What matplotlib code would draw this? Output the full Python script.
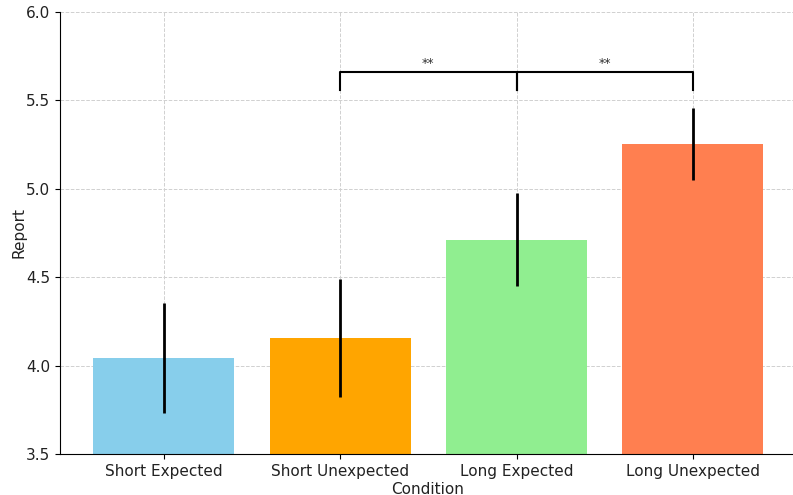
import numpy as np
import matplotlib
matplotlib.use("Agg")
import matplotlib.pyplot as plt

# --------------------------------------------------
# Data
# --------------------------------------------------
conditions = ["Short Expected", "Short Unexpected", "Long Expected", "Long Unexpected"]
means = [4.043, 4.156, 4.713, 5.254]
errors = [0.31, 0.335, 0.262, 0.205]
colors = ["skyblue", "orange", "lightgreen", "coral"]

# significance comparisons: (left bar, right bar, label)
pairs = [(1, 2, "**"), (2, 3, "**")]
bracket_y = 5.66
bracket_drop = 0.10

# --------------------------------------------------
# Plot
# --------------------------------------------------
fig = plt.figure(figsize=(7.93, 4.95), dpi=100)
ax = fig.add_axes([60 / 793, 41 / 495, 735 / 793, 442 / 495])

x = np.arange(len(conditions))
ax.bar(x, means, width=0.8, color=colors, zorder=2)
ax.errorbar(x, means, yerr=errors, fmt="none", ecolor="black",
            elinewidth=2, capsize=0, zorder=3)

for a, b, label in pairs:
    ax.plot([a, a, b, b],
            [bracket_y - bracket_drop, bracket_y, bracket_y, bracket_y - bracket_drop],
            color="black", lw=1.5, zorder=4)
    ax.text((a + b) / 2, bracket_y + 0.01, label, ha="center", va="bottom",
            fontsize=9, color="#333333")

ax.set_ylim(3.5, 6.0)
ax.set_xlim(-0.59, 3.58)
ax.set_xticks(x)
ax.set_xticklabels(conditions, fontsize=11, color="#222222")
ax.tick_params(axis="y", labelsize=11, labelcolor="#222222")
ax.set_xlabel("Condition", fontsize=11, color="#222222", labelpad=2)
ax.set_ylabel("Report", fontsize=11, color="#222222", labelpad=0)

ax.grid(True, linestyle="--", color="#d0d0d0", linewidth=0.7, zorder=0)
ax.set_axisbelow(True)
ax.spines["top"].set_visible(False)
ax.spines["right"].set_visible(False)

fig.savefig("out.png", dpi=100)
